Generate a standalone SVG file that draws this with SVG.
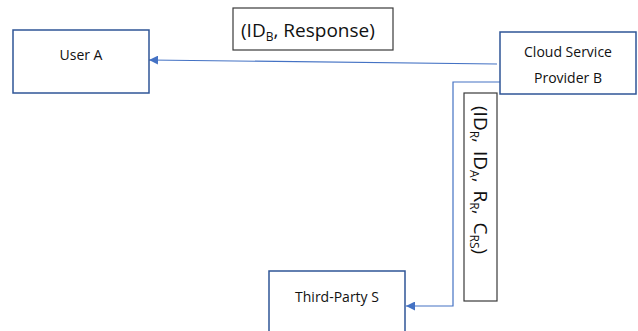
<svg xmlns="http://www.w3.org/2000/svg" width="638" height="331" viewBox="0 0 638 331">
  <style>
    .node { fill: #ffffff; stroke: #2f5597; stroke-width: 1.5; }
    .tag { fill: #ffffff; stroke: #3a3a3a; stroke-width: 1.2; }
    .label { font-family: "Open Sans", "Liberation Sans", sans-serif; font-size: 14px; fill: #111111; }
    .msg { font-family: "Open Sans", "Liberation Sans", sans-serif; font-size: 19px; fill: #111111; }
    .sub { font-size: 12px; }
    .edge { fill: none; stroke: #4472c4; stroke-width: 1.2; }
  </style>
  <defs>
    <marker id="arrow" viewBox="0 0 10 10" refX="10" refY="5" markerWidth="9" markerHeight="9" markerUnits="userSpaceOnUse" orient="auto">
      <path d="M0,0 L10,5 L0,10 z" fill="#4472c4"/>
    </marker>
  </defs>
  <rect width="638" height="331" fill="#ffffff"/>

  <g id="connectors">
    <path class="edge" d="M497,64 L149,60" marker-end="url(#arrow)"/>
    <path class="edge" d="M500,82 L453,82 L453,306 L406,306" marker-end="url(#arrow)"/>
  </g>

  <g id="msg-response">
    <rect class="tag" x="233" y="8" width="160" height="42"/>
    <text class="msg" x="241" y="37">(ID<tspan class="sub" dy="4">B</tspan><tspan dy="-4">, Response)</tspan></text>
  </g>

  <g id="msg-request">
    <rect class="tag" x="464" y="93" width="33" height="208"/>
    <text class="msg" transform="translate(474,106) rotate(90)" x="0" y="0" font-size="21" word-spacing="3">(ID<tspan class="sub" dy="4">R</tspan><tspan dy="-4">, ID</tspan><tspan class="sub" dy="4">A</tspan><tspan dy="-4">, R</tspan><tspan class="sub" dy="4">R</tspan><tspan dy="-4">, C</tspan><tspan class="sub" dy="4">RS</tspan><tspan dy="-4">)</tspan></text>
  </g>

  <g id="user-a">
    <rect class="node" x="13" y="30" width="136" height="63"/>
    <text class="label" x="81" y="60" text-anchor="middle">User A</text>
  </g>

  <g id="cloud-provider-b">
    <rect class="node" x="500" y="32" width="136" height="62"/>
    <text class="label" x="568" y="57" text-anchor="middle">Cloud Service</text>
    <text class="label" x="568" y="83" text-anchor="middle">Provider B</text>
  </g>

  <g id="third-party-s">
    <rect class="node" x="269" y="271" width="136" height="70"/>
    <text class="label" x="337" y="302" text-anchor="middle">Third-Party S</text>
  </g>
</svg>
